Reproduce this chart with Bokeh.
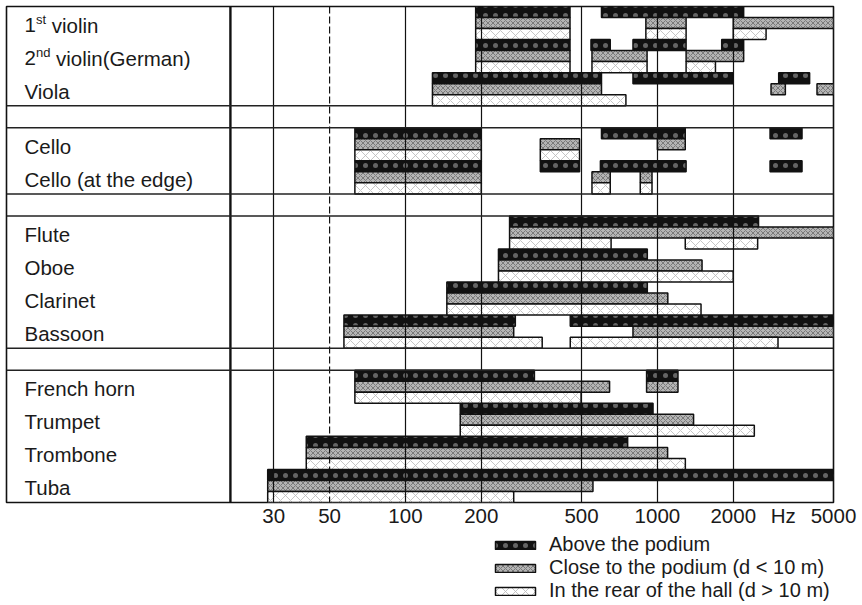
from bokeh.plotting import figure
from bokeh.layouts import column
from bokeh.models import ColumnDataSource, Range1d, FixedTicker, Span, Legend, LegendItem
from bokeh.core.properties import value
from bokeh.embed import file_html
from bokeh.resources import INLINE

# ---------------- data ----------------
GROUPS = [
    ["1st violin", "2nd violin(German)", "Viola"],
    ["Cello", "Cello (at the edge)"],
    ["Flute", "Oboe", "Clarinet", "Bassoon"],
    ["French horn", "Trumpet", "Trombone", "Tuba"],
]

# (instrument, low Hz, high Hz)
ABOVE = [
    ("1st violin", 190, 450), ("1st violin", 600, 2200),
    ("2nd violin(German)", 190, 450), ("2nd violin(German)", 545, 650),
    ("2nd violin(German)", 800, 1300), ("2nd violin(German)", 1800, 2200),
    ("Viola", 128, 600), ("Viola", 800, 2000), ("Viola", 3030, 4020),
    ("Cello", 63, 200), ("Cello", 600, 1290), ("Cello", 2800, 3750),
    ("Cello (at the edge)", 63, 200), ("Cello (at the edge)", 343, 491),
    ("Cello (at the edge)", 594, 1300), ("Cello (at the edge)", 2800, 3750),
    ("Flute", 259, 2520),
    ("Oboe", 234, 912),
    ("Clarinet", 146, 912),
    ("Bassoon", 57, 273), ("Bassoon", 451, 5000),
    ("French horn", 63, 325), ("French horn", 906, 1207),
    ("Trumpet", 165, 961),
    ("Trombone", 40.4, 762),
    ("Tuba", 28.4, 5000),
]
CLOSE = [
    ("1st violin", 190, 450), ("1st violin", 900, 1300), ("1st violin", 2000, 5000),
    ("2nd violin(German)", 190, 450), ("2nd violin(German)", 550, 910),
    ("2nd violin(German)", 1300, 2200),
    ("Viola", 128, 600), ("Viola", 2825, 3220), ("Viola", 4300, 5000),
    ("Cello", 63, 200), ("Cello", 343, 491), ("Cello", 1000, 1290),
    ("Cello (at the edge)", 63, 200), ("Cello (at the edge)", 550, 650),
    ("Cello (at the edge)", 855, 952),
    ("Flute", 259, 5000),
    ("Oboe", 234, 1504),
    ("Clarinet", 146, 1100),
    ("Bassoon", 57, 269), ("Bassoon", 800, 5000),
    ("French horn", 63, 646), ("French horn", 906, 1207),
    ("Trumpet", 165, 1392),
    ("Trombone", 40.4, 1098),
    ("Tuba", 28.4, 555),
]
REAR = [
    ("1st violin", 190, 450), ("1st violin", 900, 1300), ("1st violin", 2000, 2700),
    ("2nd violin(German)", 190, 450), ("2nd violin(German)", 550, 910),
    ("2nd violin(German)", 1300, 1700),
    ("Viola", 128, 750),
    ("Cello", 63, 200), ("Cello", 343, 491),
    ("Cello (at the edge)", 63, 200), ("Cello (at the edge)", 550, 650),
    ("Cello (at the edge)", 855, 952),
    ("Flute", 259, 655), ("Flute", 1290, 2500),
    ("Oboe", 234, 2000),
    ("Clarinet", 146, 1490),
    ("Bassoon", 57, 349), ("Bassoon", 451, 3011),
    ("French horn", 63, 498),
    ("Trumpet", 165, 2425),
    ("Trombone", 40.4, 1291),
    ("Tuba", 28.4, 269),
]
SERIES_NAMES = ["Above the podium", "Close to the podium (d < 10 m)",
                "In the rear of the hall (d > 10 m)"]

TICK_VALUES = [30, 50, 100, 200, 500, 1000, 2000, 3160, 5000]
TICK_LABELS = ["30", "50", "100", "200", "500", "1000", "2000", "Hz", "5000"]
GRID_SOLID = [30, 100, 200, 500, 1000, 2000]
GRID_DASHED = [50]

X_START, X_END = 2.61, 5000      # left edge of label column .. right edge
LABEL_EDGE = 20.2                # divider between labels and chart

# label pieces with superscripts: (base, superscript, rest)
SUPER = {"1st violin": ("1", "st", "violin"),
         "2nd violin(German)": ("2", "nd", "violin(German)")}

# ---------------- styling ----------------
FONT = "Liberation Sans"
FS = 20.5
LEG_FS = 20
SUP_FS = 13
ADV = {"1": 0.556, "2": 0.556, "s": 0.5, "t": 0.278, "n": 0.556, "d": 0.556, " ": 0.278}
GAP = 2
TXT = "#1a1a1a"
W = 858
TOP_H = 532

STYLES = [
    dict(fill_color="#111111", hatch_pattern="dot", hatch_color="white",
         hatch_scale=10, hatch_weight=0.6, hatch_alpha=0.35),
    dict(fill_color="#b4b4b4", hatch_pattern="diagonal_cross", hatch_color="#707070",
         hatch_scale=5, hatch_weight=1.0, hatch_alpha=0.85),
    dict(fill_color="white", hatch_pattern="diagonal_cross", hatch_color="#b8b8b8",
         hatch_scale=10, hatch_weight=1.0, hatch_alpha=0.8),
]

# ---------------- layout of rows ----------------
inst_top = {}
boundaries = []
off = 0
for gi, grp in enumerate(GROUPS):
    if gi > 0:
        boundaries.append(off)
        off += GAP
        boundaries.append(off)
    for name in grp:
        inst_top[name] = off
        off += 3
TOTAL = off

p = figure(width=W, height=TOP_H, x_axis_type="log",
           x_range=Range1d(X_START, X_END), y_range=Range1d(TOTAL, 0),
           y_axis_location=None, toolbar_location=None, output_backend="svg",
           min_border_left=6, min_border_right=25, min_border_top=6,
           min_border_bottom=30)
p.background_fill_color = "white"
p.border_fill_color = "white"
p.outline_line_color = "#111111"
p.outline_line_width = 1.6
p.ygrid.grid_line_color = None

sources = []
for k, (data, st) in enumerate(zip([ABOVE, CLOSE, REAR], STYLES)):
    src = ColumnDataSource(dict(
        left=[d[1] for d in data],
        right=[d[2] for d in data],
        top=[inst_top[d[0]] + k for d in data],
        bottom=[inst_top[d[0]] + k + 1 for d in data],
    ))
    p.quad(left="left", right="right", top="top", bottom="bottom", source=src,
           line_color="#111111", line_width=1.5, **st)
    sources.append(src)

# grid lines (drawn over the bars like in the original)
p.xgrid.ticker = FixedTicker(ticks=GRID_SOLID)
p.xgrid.grid_line_color = "#111111"
p.xgrid.grid_line_width = 1.2
p.xgrid.level = "guide"
for g in GRID_DASHED:
    p.add_layout(Span(location=g, dimension="height", line_color="#111111",
                      line_width=1.2, line_dash="7 3"))

p.add_layout(Span(location=LABEL_EDGE, dimension="height", line_color="#111111",
                  line_width=2.4))
for b in boundaries:
    p.add_layout(Span(location=b, dimension="width", line_color="#222222",
                      line_width=1.5))

# instrument labels
LX = 18
text_kw = dict(text_font=value(FONT), text_baseline="middle", text_align="left",
               text_color=TXT)
plain = [n for n in inst_top if n not in SUPER]
p.text(x=[X_START] * len(plain), y=[inst_top[n] + 1.5 for n in plain], text=plain,
       x_offset=LX, y_offset=2, text_font_size=f"{FS}px", **text_kw)
for name, (base, sup, rest) in SUPER.items():
    yy = inst_top[name] + 1.5
    w1 = sum(ADV[c] for c in base) * FS
    w2 = sum(ADV[c] for c in sup) * SUP_FS
    w3 = ADV[" "] * FS
    p.text(x=[X_START], y=[yy], text=[base], x_offset=LX, y_offset=2,
           text_font_size=f"{FS}px", **text_kw)
    p.text(x=[X_START], y=[yy], text=[sup], x_offset=LX + w1, y_offset=-4,
           text_font_size=f"{SUP_FS}px", **text_kw)
    p.text(x=[X_START], y=[yy], text=[rest], x_offset=LX + w1 + w2 + w3, y_offset=2,
           text_font_size=f"{FS}px", **text_kw)

# x axis
ax = p.xaxis[0]
ax.ticker = FixedTicker(ticks=TICK_VALUES)
ax.major_label_overrides = {v: l for v, l in zip(TICK_VALUES, TICK_LABELS)}
ax.axis_line_color = None
ax.major_tick_line_color = None
ax.minor_tick_line_color = None
ax.major_tick_out = 0
ax.major_label_standoff = 1
ax.major_label_text_font = FONT
ax.major_label_text_font_size = f"{FS}px"
ax.major_label_text_color = TXT

# ---------------- legend strip below the chart ----------------
# same sources, but this strip's ranges keep the bars themselves out of view
p2 = figure(width=W, height=605 - TOP_H, x_range=Range1d(0, 1), y_range=Range1d(0, 1),
            x_axis_location=None, y_axis_location=None, toolbar_location=None,
            output_backend="svg", min_border_left=6, min_border_right=25,
            min_border_top=0, min_border_bottom=0)
p2.outline_line_color = None
p2.background_fill_color = "white"
p2.border_fill_color = "white"
p2.xgrid.grid_line_color = None
p2.ygrid.grid_line_color = None
leg_renderers = []
for src, st in zip(sources, STYLES):
    leg_renderers.append(p2.quad(left="left", right="right", top="top", bottom="bottom",
                                 source=src, line_color="#111111", line_width=1.5, **st))

legend = Legend(items=[LegendItem(label=n, renderers=[r]) for n, r in zip(SERIES_NAMES, leg_renderers)],
                location=(484, 3), orientation="vertical",
                glyph_width=50, glyph_height=10, label_height=22, spacing=0,
                padding=0, margin=0, label_standoff=9,
                label_text_font=FONT, label_text_font_size=f"{LEG_FS}px",
                label_text_color=TXT,
                border_line_alpha=0, background_fill_alpha=0)
p2.add_layout(legend)

layout = column(p, p2, spacing=0)
open("out.html", "w").write(file_html(layout, INLINE))
